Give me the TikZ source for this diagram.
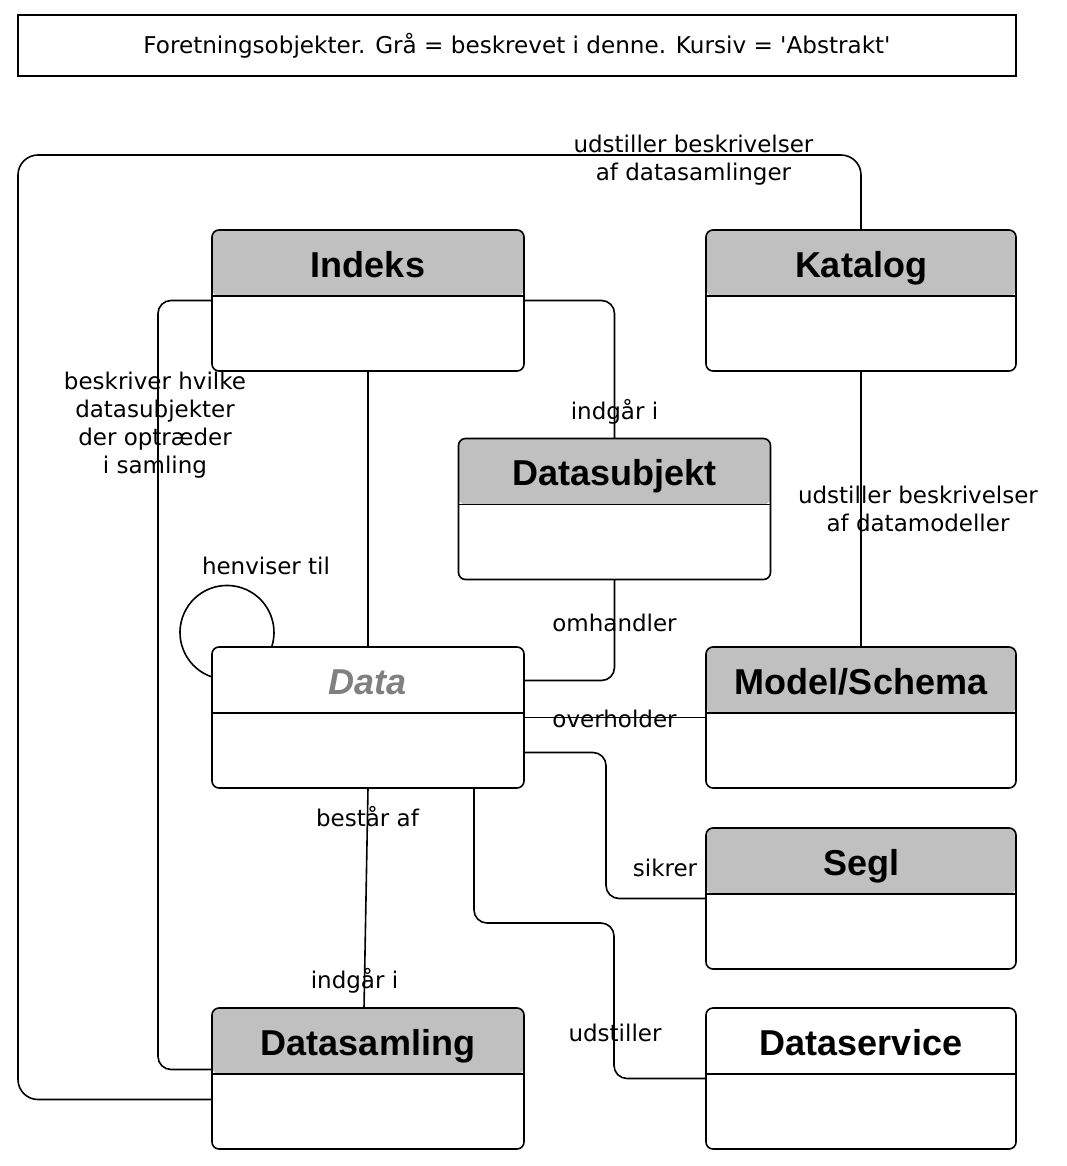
\documentclass[tikz,border=0pt]{standalone}
\usepackage{fontspec}
\setmainfont{DejaVu Sans}
\newfontfamily\boksfont{Liberation Sans}
\usetikzlibrary{positioning}

\definecolor{hovedgraa}{RGB}{192,192,192}
\definecolor{abstraktgraa}{RGB}{128,128,128}

\tikzset{
  boks/.style = {draw, line width=1.6pt, rounded corners=7pt, inner sep=0pt, outer sep=0pt,
    minimum width=312pt, minimum height=141pt,
    path picture = {
      \fill[#1] (path picture bounding box.north west) rectangle ([yshift=-66pt]path picture bounding box.north east);
      \draw[line width=1.6pt] ([yshift=-66pt]path picture bounding box.north west) -- ([yshift=-66pt]path picture bounding box.north east);
    }},
  boks/.default = hovedgraa,
  smal/.style = {minimum width=310pt},
  navn/.style = {anchor=base, inner sep=0pt, font=\boksfont\bfseries\fontsize{36}{40}\selectfont},
  link/.style = {line width=1.6pt, rounded corners=13pt},
  tekst/.style = {inner sep=0pt, font=\fontsize{23}{28}\selectfont},
}

\begin{document}
\begin{tikzpicture}[x=1pt, y=-1pt]
  \useasboundingbox (0,0) rectangle (1066,1166);

  % overskrift
  \node[draw, line width=1.6pt, minimum width=998pt, minimum height=61pt, inner sep=0pt,
        font=\fontsize{23.1}{28}\selectfont] (titel) at (517,45.5)
        {Foretningsobjekter. Grå = beskrevet i denne. Kursiv = \textquotesingle Abstrakt\textquotesingle};

  % klasser
  \node[boks] (indeks) at (368,300.5) {};
  \node[boks, smal, right=182pt of indeks] (katalog) {};
  \node[boks] (datasubjekt) at (614.5,509) {};
  \node[boks=white, below=276pt of indeks] (data) {};
  \node[boks, smal, right=182pt of data] (model) {};
  \node[boks, smal, below=40pt of model] (segl) {};
  \node[boks, below=220pt of data] (datasamling) {};
  \node[boks=white, smal, below=39pt of segl] (dataservice) {};

  \node[navn] (indeks-navn) at ([yshift=-47pt]indeks.north) {Indeks};
  \node[navn] (katalog-navn) at ([yshift=-47pt]katalog.north) {Katalog};
  \node[navn] (datasubjekt-navn) at ([yshift=-47pt]datasubjekt.north) {Datasubjekt};
  \node[navn, text=abstraktgraa, font=\boksfont\bfseries\itshape\fontsize{36}{40}\selectfont]
    (data-navn) at ([yshift=-47pt]data.north) {Data};
  \node[navn] (model-navn) at ([yshift=-47pt]model.north) {Model/Schema};
  \node[navn] (segl-navn) at ([yshift=-47pt]segl.north) {Segl};
  \node[navn] (datasamling-navn) at ([yshift=-47pt]datasamling.north) {Datasamling};
  \node[navn] (dataservice-navn) at ([yshift=-47pt]dataservice.north) {Dataservice};

  % knaekpunkter
  \coordinate (topbue) at (18,155);
  \coordinate (venstre) at (158,700);
  \coordinate (seglknaek) at (606,800);
  \coordinate (serviceknaek) at (614,923);

  % forbindelser
  \draw[link, rounded corners=20pt] (katalog.north) |- (topbue) |- ([yshift=-21pt]datasamling.west);
  \draw[link] (indeks.west) -| (venstre) |- ([yshift=9pt]datasamling.west);
  \draw[link] (indeks.east) -| (datasubjekt.north);
  \draw[link] (indeks.south) -- (data.north);
  \draw[link] (katalog.south) -- (model.north);
  \draw[link] (datasubjekt.south) |- ([yshift=37pt]data.east);
  \draw[link] (data.east) -- (model.west);
  \draw[link] ([yshift=-35pt]data.east) -| (seglknaek) |- (segl.west);
  \draw[link] ([xshift=106pt]data.south) |- (serviceknaek) |- (dataservice.west);
  \draw[link] (data.south) -- ([xshift=-4pt]datasamling.north);
  \draw[link] ([yshift=40.5pt]data.west) arc[start angle=251.4, end angle=-18.6, radius=47pt];

  % tekster
  \node[tekst, align=center] (t-datasamlinger) at (693.5,160) {udstiller beskrivelser\\af datasamlinger};
  \node[tekst, align=center] (t-datasubjekter) at (155,425) {beskriver hvilke\\datasubjekter\\der optræder\\i samling};
  \node[tekst, anchor=base] (t-indgaar1) at (614.5,419) {indgår i};
  \node[tekst, align=center] (t-datamodeller) at (918,508.5) {udstiller beskrivelser\\af datamodeller};
  \node[tekst, anchor=base] (t-henviser) at (266,574) {henviser til};
  \node[tekst, anchor=base] (t-omhandler) at (614.5,631) {omhandler};
  \node[tekst, anchor=base] (t-overholder) at (614.5,727) {overholder};
  \node[tekst, anchor=base] (t-sikrer) at (665,876) {sikrer};
  \node[tekst, anchor=base] (t-bestaar) at (367.5,826) {består af};
  \node[tekst, anchor=base] (t-indgaar2) at (354.5,988) {indgår i};
  \node[tekst, anchor=base] (t-udstiller) at (615,1041) {udstiller};
\end{tikzpicture}
\end{document}
